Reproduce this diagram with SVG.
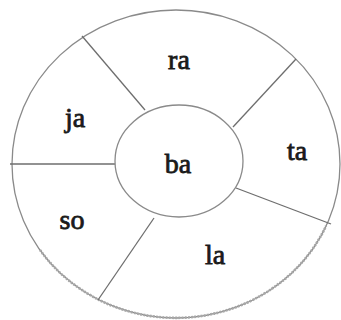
<svg xmlns="http://www.w3.org/2000/svg" width="341" height="320" viewBox="0 0 341 320">
<style>
.ring{fill:none;stroke:#8a8a8a;stroke-width:1.3}
.edge{stroke:#6e6e6e;stroke-width:1.3;fill:none}
.lbl{font-family:"Liberation Serif","Times New Roman",serif;font-size:28px;fill:#1a1a1a;stroke:#1a1a1a;stroke-width:0.8;text-anchor:middle}
</style>
<rect width="341" height="320" fill="#ffffff"/>
<g id="outer">
<ellipse class="ring" cx="176" cy="164" rx="164" ry="154"/>
<path d="M40,250 A164,154 0 0 0 326,226" fill="none" stroke="#a8a8a8" stroke-width="2.6" stroke-dasharray="2 1.2"/>
</g>
<g id="connectors">
<line class="edge" x1="10" y1="164" x2="115" y2="164"/>
<line class="edge" x1="82" y1="36" x2="145" y2="110"/>
<line class="edge" x1="296" y1="59" x2="233" y2="127"/>
<line class="edge" x1="236" y1="188" x2="331" y2="224"/>
<line class="edge" x1="154" y1="218" x2="98" y2="300"/>
</g>
<g id="ba"><ellipse class="ring" cx="179" cy="161" rx="64" ry="56"/><text class="lbl" x="178" y="173">ba</text></g>
<g id="ra"><text class="lbl" x="179" y="69">ra</text></g>
<g id="ja"><text class="lbl" x="75" y="127">ja</text></g>
<g id="ta"><text class="lbl" x="297" y="160">ta</text></g>
<g id="so"><text class="lbl" x="72" y="229">so</text></g>
<g id="la"><text class="lbl" x="215" y="264">la</text></g>
</svg>
